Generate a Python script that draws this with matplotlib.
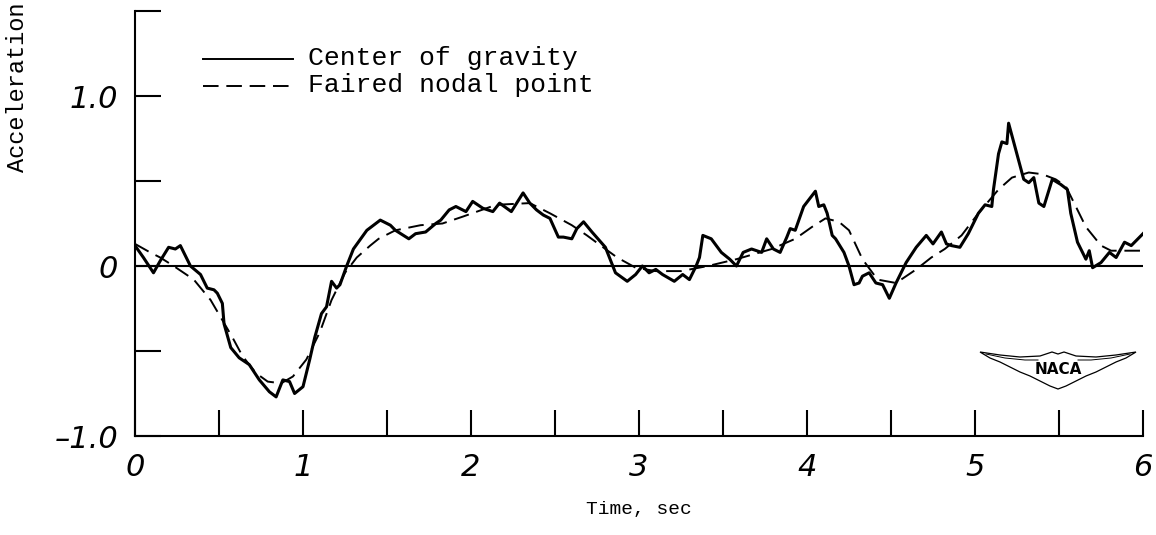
import numpy as np
import matplotlib.pyplot as plt
from matplotlib.patches import Polygon

# center of gravity trace (time in s, acceleration in g)
cg_t = [0.00, 0.05, 0.11, 0.15, 0.20, 0.24, 0.27, 0.30, 0.33, 0.39, 0.43, 0.47,
        0.49, 0.52, 0.53, 0.57, 0.62, 0.68, 0.74, 0.80, 0.84, 0.88, 0.92, 0.95,
        1.00, 1.04, 1.07, 1.11, 1.14, 1.17, 1.20, 1.22, 1.26, 1.30, 1.38, 1.46,
        1.52, 1.55, 1.63, 1.67, 1.73, 1.79, 1.82, 1.87, 1.91, 1.97, 2.01, 2.07,
        2.13, 2.17, 2.24, 2.31, 2.35, 2.39, 2.43, 2.47, 2.52, 2.55, 2.60, 2.63,
        2.67, 2.72, 2.80, 2.86, 2.93, 2.98, 3.02, 3.06, 3.10, 3.14, 3.21, 3.26,
        3.30, 3.34, 3.36, 3.38, 3.43, 3.49, 3.54, 3.58, 3.62, 3.67, 3.73, 3.76,
        3.80, 3.84, 3.88, 3.90, 3.93, 3.98, 4.05, 4.07, 4.10, 4.12, 4.15, 4.17,
        4.22, 4.25, 4.28, 4.31, 4.33, 4.37, 4.41, 4.45, 4.49, 4.53, 4.59, 4.65,
        4.71, 4.75, 4.80, 4.83, 4.86, 4.91, 4.96, 5.02, 5.06, 5.10, 5.11, 5.14,
        5.16, 5.19, 5.20, 5.23, 5.26, 5.29, 5.32, 5.35, 5.38, 5.41, 5.46, 5.51,
        5.55, 5.57, 5.61, 5.66, 5.68, 5.70, 5.75, 5.80, 5.84, 5.89, 5.93, 5.96,
        6.00]
cg_a = [0.12, 0.05, -0.04, 0.03, 0.11, 0.10, 0.12, 0.06, 0.00, -0.05, -0.13, -0.14,
        -0.16, -0.22, -0.34, -0.48, -0.54, -0.58, -0.67, -0.74, -0.77, -0.67, -0.68, -0.75,
        -0.71, -0.55, -0.42, -0.28, -0.24, -0.09, -0.13, -0.11, 0.00, 0.10, 0.21, 0.27,
        0.24, 0.21, 0.16, 0.19, 0.20, 0.25, 0.27, 0.33, 0.35, 0.32, 0.38, 0.34,
        0.32, 0.37, 0.32, 0.43, 0.37, 0.33, 0.30, 0.28, 0.17, 0.17, 0.16, 0.22,
        0.26, 0.20, 0.11, -0.04, -0.09, -0.05, 0.00, -0.04, -0.02, -0.05, -0.09, -0.05,
        -0.08, 0.00, 0.05, 0.18, 0.16, 0.08, 0.04, 0.00, 0.08, 0.10, 0.08, 0.16,
        0.10, 0.08, 0.17, 0.22, 0.21, 0.35, 0.44, 0.35, 0.36, 0.31, 0.18, 0.16,
        0.08, 0.00, -0.11, -0.10, -0.06, -0.04, -0.10, -0.11, -0.19, -0.10, 0.02, 0.11,
        0.18, 0.13, 0.20, 0.13, 0.12, 0.11, 0.19, 0.31, 0.36, 0.35, 0.45, 0.66,
        0.73, 0.72, 0.84, 0.73, 0.62, 0.51, 0.49, 0.52, 0.37, 0.35, 0.51, 0.48,
        0.45, 0.31, 0.14, 0.04, 0.09, -0.01, 0.02, 0.08, 0.05, 0.14, 0.12, 0.15,
        0.19]

# faired nodal point
np_t = [0.00, 0.09, 0.15, 0.23, 0.35, 0.45, 0.58, 0.64, 0.72, 0.79, 0.87, 0.94,
        1.02, 1.10, 1.17, 1.25, 1.32, 1.40, 1.45, 1.55, 1.70, 1.83, 1.95, 2.15,
        2.35, 2.47, 2.60, 2.69, 2.80, 2.87, 2.98, 3.10, 3.25, 3.41, 3.58, 3.79,
        3.93, 4.03, 4.11, 4.19, 4.25, 4.33, 4.42, 4.53, 4.65, 4.74, 4.82, 4.92,
        5.02, 5.14, 5.22, 5.32, 5.40, 5.48, 5.54, 5.60, 5.66, 5.75, 5.81, 5.91,
        6.00]
np_a = [0.13, 0.08, 0.05, 0.00, -0.08, -0.20, -0.42, -0.53, -0.63, -0.68, -0.69, -0.65,
        -0.55, -0.39, -0.20, -0.04, 0.05, 0.12, 0.16, 0.21, 0.24, 0.25, 0.29, 0.36,
        0.37, 0.31, 0.24, 0.18, 0.10, 0.05, -0.01, -0.03, -0.03, 0.00, 0.04, 0.10,
        0.16, 0.23, 0.28, 0.26, 0.21, 0.04, -0.08, -0.10, -0.02, 0.05, 0.10, 0.18,
        0.31, 0.45, 0.52, 0.55, 0.54, 0.51, 0.47, 0.35, 0.23, 0.12, 0.09, 0.09,
        0.09]

x_ticks = np.arange(0, 6.01, 0.5)
x_labels = ['0', '', '1', '', '2', '', '3', '', '4', '', '5', '', '6']
y_ticks = [-1.0, -0.5, 0, 0.5, 1.0, 1.5]
y_labels = ['\u20131.0', '', '0', '', '1.0', '']

mono = 'Liberation Mono'
hand = dict(family='DejaVu Sans', style='italic', size=22)

fig = plt.figure(figsize=(11.56, 5.35), dpi=100)
ax = fig.add_axes([135 / 1156, 99 / 535, 1008 / 1156, 425 / 535])

ax.plot(cg_t, cg_a, color='black', lw=2.2, solid_joinstyle='round')
ax.plot(np_t, np_a, color='black', lw=1.4, dashes=(8, 4))
ax.axhline(0, color='black', lw=1.5)

ax.set_xlim(0, 6)
ax.set_ylim(-1.0, 1.5)
for s in ['top', 'right']:
    ax.spines[s].set_visible(False)
for s in ['left', 'bottom']:
    ax.spines[s].set_linewidth(1.5)

ax.set_xticks(x_ticks)
ax.set_xticklabels(x_labels, fontdict=hand)
ax.set_yticks(y_ticks)
ax.set_yticklabels(y_labels, fontdict=hand)
ax.tick_params(direction='in', length=19, width=1.5, pad=12)

# legend drawn by hand
ax.plot([0.0675, 0.157], [0.887, 0.887], color='black', lw=1.4, transform=ax.transAxes)
ax.plot([0.0675, 0.157], [0.824, 0.824], color='black', lw=1.4, dashes=(8, 4),
        transform=ax.transAxes)
ax.text(0.172, 0.873, 'Center of gravity', family=mono, size=19,
        va='baseline', transform=ax.transAxes)
ax.text(0.172, 0.810, 'Faired nodal point', family=mono, size=19,
        va='baseline', transform=ax.transAxes)

# NACA wing emblem
cx = 1058
left = [(980, 352), (1000, 355), (1020, 357), (1040, 356), (1052, 352), (cx, 354)]
bottom = [(980, 352), (990, 358), (1000, 362), (1010, 367), (1020, 372),
          (1030, 376), (1040, 381), (1050, 386), (cx, 389)]
top_pts = left + [(2 * cx - x, y) for x, y in reversed(left[:-1])]
bot_pts = bottom + [(2 * cx - x, y) for x, y in reversed(bottom[:-1])]
outline = top_pts + list(reversed(bot_pts))
outline = [((x - 135) / 1008, (436 - y) / 425) for x, y in outline]
ax.add_patch(Polygon(outline, closed=True, fill=False, lw=0.9, ec='black',
                     transform=ax.transAxes))
inner = [(986, 354), (1005, 358), (1025, 360), (1038, 360)]
for side in (1, -1):
    pts = [((cx + side * (x - cx) - 135) / 1008, (436 - y) / 425) for x, y in inner]
    ax.plot(*zip(*pts), color='black', lw=0.7, transform=ax.transAxes)
ax.text((cx - 135) / 1008, (436 - 369) / 425, 'NACA', family='DejaVu Sans',
        weight='bold', size=11, ha='center', va='center', transform=ax.transAxes)

ax.set_xlabel('Time, sec', family=mono, size=14, labelpad=14)
fig.text(18 / 1156, 1 - 2 / 535, 'Acceleration', family=mono, size=17,
         rotation=90, ha='center', va='top')

fig.savefig('out.png', dpi=100)
